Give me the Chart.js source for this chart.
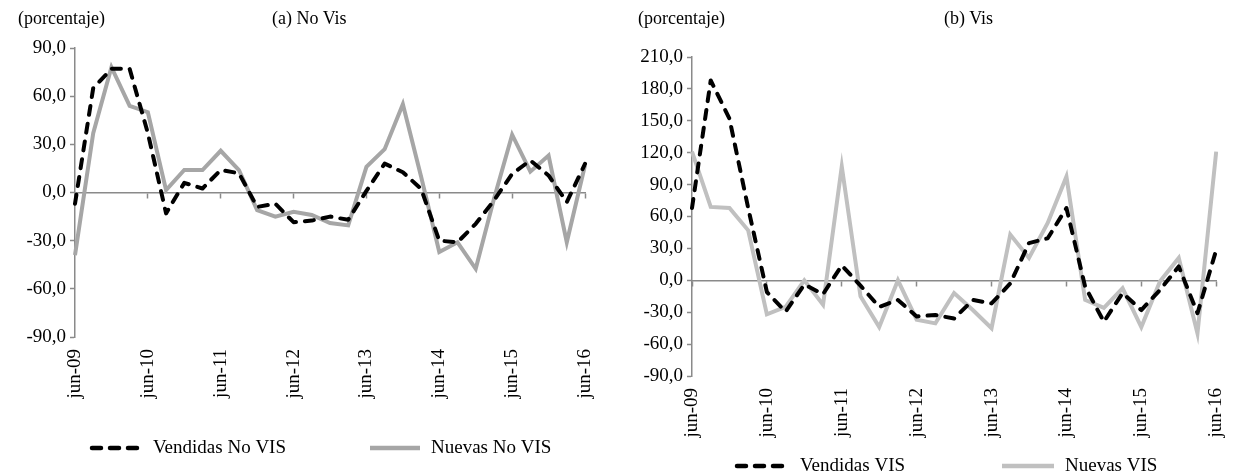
<!DOCTYPE html>
<html>
<head>
<meta charset="utf-8">
<script src="https://cdn.jsdelivr.net/npm/chart.js@4.4.1/dist/chart.umd.min.js"></script>
<style>
  body { margin: 0; background: #fff; }
  .panel { position: absolute; top: 0; height: 474px; }
  .txt { position: absolute; top: 8px; font: 18px 'Liberation Serif', 'Times New Roman', serif; line-height: 20px; color: #000; white-space: nowrap; }
</style>
</head>
<body>
<div class="panel" style="left:0;width:620px"><canvas id="chartA"></canvas></div>
<div class="panel" style="left:620px;width:631px"><canvas id="chartB"></canvas></div>
<div class="txt" style="left:18px">(porcentaje)</div>
<div class="txt" style="left:272px">(a) No Vis</div>
<div class="txt" style="left:638px">(porcentaje)</div>
<div class="txt" style="left:944px">(b) Vis</div>
<script>
// Quarterly periods, jun-09 .. jun-16
const LABELS = [
  'jun-09', 'sep-09', 'dic-09', 'mar-10',
  'jun-10', 'sep-10', 'dic-10', 'mar-11',
  'jun-11', 'sep-11', 'dic-11', 'mar-12',
  'jun-12', 'sep-12', 'dic-12', 'mar-13',
  'jun-13', 'sep-13', 'dic-13', 'mar-14',
  'jun-14', 'sep-14', 'dic-14', 'mar-15',
  'jun-15', 'sep-15', 'dic-15', 'mar-16',
  'jun-16'
];

// (a) No Vis
const vendidasNoVis = [-7, 65, 77, 77, 37, -13, 6, 2.5, 14, 12, -9, -7, -18.5, -17.5, -15, -17, 1, 18, 12.6, 2.3, -30, -31, -19.5, -5, 11.6, 20, 10.6, -6, 17.8];
const nuevasNoVis = [-39, 37, 78, 54, 50, 1.5, 14, 14, 26, 14, -11, -15, -12, -14, -19, -20.5, 16, 27, 55, 10, -37, -31, -47.5, -4, 36, 13, 23, -31, 17];

// (b) Vis
const vendidasVis = [68, 188, 152, 68, -11, -29.5, -4, -13, 14, -5, -25, -18.5, -34, -32.6, -36, -18.5, -21.7, -3, 35, 39.5, 68, -6, -39, -12, -28, -9, 13, -31, 28.5];
const nuevasVis = [121, 69, 68, 47, -32, -25, 0, -23, 107, -15, -44, 0, -37, -40.5, -12, -28, -45, 43, 21, 54, 97.5, -18.5, -26, -7.5, -44, -1, 21, -50, 121];

const FONT = "'Liberation Serif', 'Times New Roman', serif";
const AXIS = '#8a8a8a';

// legend drawn as line swatches + text, placed like the Excel original
const lineLegend = {
  id: 'lineLegend',
  afterDraw(chart, args, opts) {
    const ctx = chart.ctx;
    ctx.save();
    ctx.font = `19px ${FONT}`;
    ctx.textBaseline = 'middle';
    chart.data.datasets.forEach((ds, i) => {
      const x = opts.x[i];
      ctx.beginPath();
      ctx.lineWidth = ds.borderWidth + 0.5;
      ctx.strokeStyle = ds.borderColor;
      ctx.lineCap = ds.borderCapStyle || 'butt';
      ctx.setLineDash(ds.borderDash || []);
      ctx.moveTo(x + 2, opts.y);
      ctx.lineTo(x + opts.width - 2, opts.y);
      ctx.stroke();
      ctx.setLineDash([]);
      ctx.fillStyle = '#000';
      ctx.fillText(ds.label, x + opts.width + 9, opts.y);
    });
    ctx.restore();
  }
};

function makeChart(id, cfg) {
  return new Chart(document.getElementById(id), {
    type: 'line',
    data: {
      labels: LABELS,
      datasets: [
        {
          label: cfg.names[0], data: cfg.sold,
          borderColor: '#000', borderWidth: 4, borderDash: [9, 9],
          borderCapStyle: 'round', borderJoinStyle: 'round'
        },
        {
          label: cfg.names[1], data: cfg.fresh,
          borderColor: cfg.gray, borderWidth: 4
        }
      ]
    },
    options: {
      responsive: true,
      maintainAspectRatio: false,
      animation: false,
      layout: { padding: cfg.padding },
      elements: { point: { radius: 0 }, line: { tension: 0 } },
      plugins: {
        legend: { display: false },
        tooltip: { enabled: false },
        lineLegend: cfg.legend
      },
      scales: {
        x: {
          offset: false,
          border: { display: false },
          grid: { display: false, drawTicks: false },
          ticks: {
            autoSkip: false, maxRotation: 90, minRotation: 90, padding: 12,
            color: '#000', font: { family: FONT, size: 19 },
            callback: (v, i) => i % 4 === 0 ? LABELS[i] : ''
          },
          afterFit: s => { s.height = 70; }
        },
        // zero line with the small category tick marks
        x2: {
          type: 'category',
          labels: LABELS,
          position: { y: 0 },
          offset: false,
          border: { color: AXIS, width: 1.5 },
          grid: {
            drawOnChartArea: false, drawTicks: true, tickLength: 5, tickWidth: 1.5,
            tickColor: c => c.index % 4 === 0 ? AXIS : 'rgba(0,0,0,0)'
          },
          ticks: { display: false, autoSkip: false }
        },
        y: {
          min: cfg.min, max: cfg.max,
          border: { color: AXIS, width: 1.5 },
          grid: { drawOnChartArea: false, drawTicks: true, tickLength: 5, tickWidth: 1.5, tickColor: AXIS },
          ticks: {
            stepSize: 30, padding: 4,
            color: '#000', font: { family: FONT, size: 19 },
            callback: v => v.toFixed(1).replace('.', ',')
          },
          afterFit: s => { s.width = cfg.yWidth; }
        }
      }
    },
    plugins: [lineLegend]
  });
}

makeChart('chartA', {
  names: ['Vendidas No VIS', 'Nuevas No VIS'],
  sold: vendidasNoVis, fresh: nuevasNoVis, gray: '#a6a6a6',
  min: -90, max: 90, yWidth: 75,
  padding: { top: 48, right: 35, bottom: 67, left: 0 },
  legend: { x: [90, 368], y: 448, width: 54 }
});

makeChart('chartB', {
  names: ['Vendidas VIS', 'Nuevas VIS'],
  sold: vendidasVis, fresh: nuevasVis, gray: '#c0c0c0',
  min: -90, max: 210, yWidth: 72,
  padding: { top: 57, right: 18, bottom: 28, left: 0 },
  legend: { x: [115, 380], y: 466, width: 56 }
});
</script>
</body>
</html>
